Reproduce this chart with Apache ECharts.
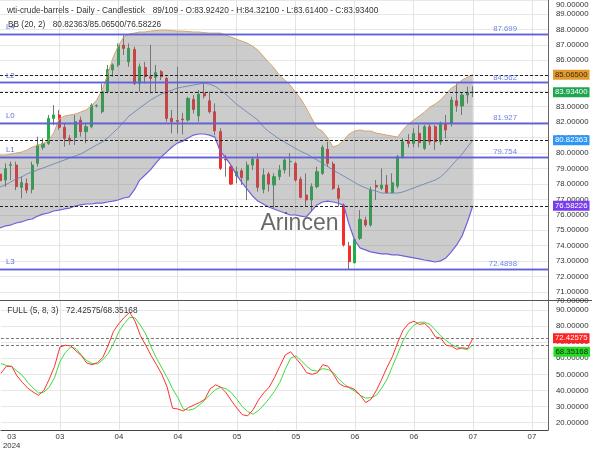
<!DOCTYPE html>
<html><head><meta charset="utf-8">
<script src="https://cdn.jsdelivr.net/npm/echarts@6/dist/echarts.min.js"></script>
<style>html,body{margin:0;padding:0;background:#fff}#c{width:600px;height:450px}</style>
</head><body><div id="c"></div>
<script>
// ---- candles ----
const open = [78.64,78.25,79.2,79.22,77.78,78.03,77.65,79.33,80.37,80.62, 82.24,82.46,81.66,80.95,81.0,82.13,81.38,81.7,83.05,82.67, 83.97,85.37,85.7,86.98,85.9,86.7,84.5,85.54,84.94,84.9, 85.26,84.83,82.24,82.1,82.2,82.13,83.47,82.4,83.86,83.38, 82.67,81.38,79.6,79.11,78.51,78.85,78.25,79.22,79.59,77.65, 78.64,77.93,78.47,78.9,79.44,79.33,78.3,77.28,76.96,77.82, 78.68,80.24,79.29,77.71,76.64,73.98,72.9,74.48,75.66,75.34, 77.9,77.71,77.93,77.43,77.86,79.72,80.78,80.62,81.27,80.3, 81.7,81.7,80.73,81.85,81.92,83.38,83.04,83.75,83.9242];
const high = [79.44,79.33,79.45,79.44,78.47,78.36,79.44,81.06,80.95,82.46, 83.1,82.78,81.92,81.16,82.46,82.35,81.92,83.21,83.15,84.5, 85.7,85.8,87.09,87.63,87.09,86.88,85.8,85.9,87.0,85.7, 85.37,84.94,82.78,85.58,82.6,83.64,83.75,84.07,84.5,83.97, 83.21,81.6,79.87,79.22,79.11,79.0,79.44,79.76,79.98,79.0, 78.79,78.68,79.22,79.65,79.98,79.44,78.47,78.68,78.04,79.11, 80.52,80.73,79.44,77.93,76.74,74.26,74.48,76.31,75.88,77.82, 78.25,79.0,78.58,78.68,79.87,80.95,81.23,81.6,81.81,81.81, 81.92,81.81,82.03,82.46,83.64,84.5,83.9,84.29,84.321];
const low = [77.82,77.82,78.25,77.6,77.07,77.39,77.39,79.12,80.2,80.52, 81.8,81.5,80.41,80.52,80.52,81.06,80.63,81.6,82.95,82.56, 83.86,84.94,85.58,86.34,85.58,84.4,83.97,84.5,83.86,83.97, 84.72,82.03,81.27,81.27,81.2,82.03,82.56,82.03,83.53,82.56, 81.16,78.9,78.47,77.93,78.04,77.93,76.96,78.9,77.5,77.39, 77.5,76.42,78.25,78.68,78.47,78.14,77.07,76.53,76.2,77.71, 78.58,79.11,77.61,76.53,73.94,72.43,72.86,74.37,75.23,75.23, 76.96,77.6,77.39,77.39,77.71,79.65,80.36,80.36,80.36,80.19, 80.52,80.19,80.52,80.95,81.7,82.67,82.46,83.21,83.614];
const close = [78.21,79.0,79.25,77.82,78.08,77.6,79.22,80.52,80.63,82.24, 82.46,81.66,80.95,80.78,82.03,81.38,81.7,83.1,83.08,83.97, 85.41,85.7,86.98,86.77,86.77,84.5,85.58,84.94,84.83,85.2, 84.94,82.24,82.03,82.05,82.15,83.53,82.82,83.8,83.69,82.67, 81.44,79.01,79.55,77.99,78.79,78.42,79.22,79.6,77.78,78.58, 77.99,78.47,78.9,79.55,79.46,78.25,77.13,76.96,77.82,78.79, 80.36,79.33,77.71,77.07,74.05,72.97,74.41,75.71,75.34,77.61, 77.8,77.93,77.43,78.08,79.76,80.73,80.62,81.27,80.67,81.7, 80.73,80.73,81.92,81.49,83.43,83.06,83.75,83.92,83.934];

// ---- Bollinger bands ----
const bbUpper = [79.87,79.87,79.93,80.0,80.06,80.19,80.39,80.5,80.6,80.8, 81.3,82.2,82.39,82.46,82.52,82.65,82.78,83.04,83.43,84.07, 85.04,86.14,86.92,87.5,87.7,87.76,87.83,87.83,87.89,87.92, 87.95,87.95,87.92,87.89,87.89,87.86,87.83,87.83,87.79,87.76, 87.76,87.76,87.63,87.5,87.37,87.24,87.11,86.92,86.66,86.27, 85.88,85.5,85.04,84.72,84.4,83.94,83.49,82.91,82.26,81.62, 81.42,80.97,80.39,80.52,80.84,81.23,81.42,81.49,81.42,81.42, 81.29,81.23,81.16,81.1,81.03,81.49,81.87,82.13,82.39,82.65, 82.97,83.17,83.43,83.81,84.2,84.4,84.72,84.91,85.065];
const bbMiddle = [77.8,77.93,78.13,78.32,78.45,78.64,78.77,78.91,79.03,79.16, 79.29,79.42,79.55,79.68,79.81,79.93,80.13,80.32,80.52,80.71, 80.97,81.29,81.62,82.0,82.39,82.65,82.91,83.17,83.43,83.62, 83.81,83.94,84.07,84.2,84.27,84.33,84.4,84.46,84.53,84.46, 84.33,84.07,83.81,83.49,83.17,82.91,82.65,82.39,82.13,81.7, 81.4,81.15,80.9,80.7,80.5,80.3,80.1,79.95,79.75,79.55, 79.35,79.12,78.9,78.7,78.5,78.3,78.1,77.9,77.75,77.62, 77.54,77.41,77.41,77.41,77.41,77.48,77.61,77.74,77.87,78.0, 78.13,78.25,78.45,78.77,79.16,79.55,79.93,80.39,80.82363];
const bbLower = [75.15,75.28,75.34,75.47,75.54,75.67,75.73,75.92,76.05,76.12, 76.25,76.31,76.38,76.44,76.57,76.64,76.7,76.7,76.76,76.76, 76.83,76.89,76.96,77.09,77.15,77.61,78.25,78.58,78.91,79.35, 79.74,80.06,80.39,80.64,80.77,80.97,81.16,81.23,81.23,81.16, 81.03,80.1,79.7,79.2,78.6,78.1,77.67,77.22,76.89,76.7, 76.51,76.38,76.25,76.12,75.99,75.99,75.92,75.86,76.25,76.64, 76.83,76.89,76.83,76.75,76.6,75.34,74.37,73.86,73.73,73.6, 73.54,73.47,73.47,73.41,73.41,73.35,73.28,73.21,73.15,73.08, 73.02,72.95,73.02,73.21,73.6,74.05,74.63,75.54,76.58226];

// ---- Full stochastic ----
const stochK = [50.6,55,55,49,45,41.5,39,37,40,47, 55,67,68,67.7,64.5,61.6,57,56,57.3,60.5, 68,76.8,81.5,85.4,88.5,83,74,68,61.6,56, 50,42,29,28.5,27.3,29.5,31,32.5,34.5,41, 43.5,42,38.5,33.5,29,25,24.3,28,34,38.5, 42,48,55,62,64,60,56,51,50,51, 56,55,50,44.5,42.5,42,40.5,37,32.5,34.5, 40,47,54.5,61,70,77.5,81.5,83,81,81.5, 78.5,73.2,72.5,68,67.5,65.5,66.5,66,72.42575];
const stochD = [56.7,55.5,54.8,52,49.3,45,41.5,38.5,39,42, 48,58,63.5,67,66,62,58.5,56.7,56.5,59, 63,69,76.5,81.5,85.4,85,80.5,75,67,60, 54,48,41,35.5,28.5,27.8,28.6,31,34,37.5, 40.5,42,41,38.5,34.5,30,27,25.3,27.5,31, 35,39.5,45,53,60,61.5,58.5,55,52.5,52, 53.5,53,51,47,44,41.5,39.5,37,35.3,35.5, 37,41.5,47,55,63,71,76.8,80.5,82.3,82.3, 81,77.5,73.8,71,68.5,67,66,65.3,68.35168];

// ---- axis / levels ----
const slotCount = 103;
const tickIndex = [2, 11, 22, 33, 44, 55, 66, 77, 88, 99];
const tickText = ['03\n2024', '03', '04', '04', '05', '05', '06', '06', '07', '07'];
const gridLineIndex = [11, 22, 33, 44, 55, 66, 77, 88, 99];
const levelValues = [87.699, 84.562, 81.927, 79.754, 72.4898];
const levelNames = ['L4', 'L2', 'L0', 'L1', 'L3'];
const totalBars = 109;

const FONT = '"Liberation Sans", Arial, sans-serif';
const FS = 7.8;
const N = open.length;
const L = N - 1;
const categories = Array.from({length: slotCount}, (_, i) => String(i));
const wickData = open.map((o, i) => [o, close[i], low[i], high[i]]);
const bodyData = open.map((o, i) => [o, close[i], Math.min(o, close[i]), Math.max(o, close[i])]);
const bandWidth = bbUpper.map((u, i) => +(u - bbLower[i]).toFixed(5));
const labelSet = new Set(tickIndex);
const lineSet = new Set(gridLineIndex);

const UP = '#1fae48', DOWN = '#f42c2c', WICK = '#777777';

function badge(value, bg, fg, pos, dist) {
  return {
    yAxis: value,
    lineStyle: {type: [3, 2], color: '#222', width: 1},
    label: {show: true, position: pos || 'end', distance: dist || 5, formatter: value.toFixed(5),
      backgroundColor: bg, color: fg, padding: [1, 2, 0, 2], fontSize: FS, lineHeight: 9, fontFamily: FONT}
  };
}
const levelLine = {type: 'solid', color: '#6262d8', width: 1.4};
const mainMarks = [];
levelValues.forEach((v, i) => {
  mainMarks.push({yAxis: v, lineStyle: levelLine,
    label: {show: true, position: 'insideEndTop', distance: [31, 1], formatter: String(v), color: '#6f84e4', fontSize: FS, fontFamily: FONT}});
  mainMarks.push({yAxis: v, lineStyle: levelLine,
    label: {show: true, position: 'insideStartTop', distance: [6, 3], formatter: levelNames[i], color: '#5a70dc', fontSize: FS, fontFamily: FONT}});
});
mainMarks.push(badge(bbUpper[L], '#e29a2e', '#3a2a10'));
mainMarks.push(badge(close[L], '#20a650', '#ffffff'));
mainMarks.push(badge(bbMiddle[L], '#2f96f2', '#ffffff'));
mainMarks.push(badge(bbLower[L], '#7a3cf0', '#ffffff'));

const k1 = badge(stochK[L], '#ff2222', '#ffffff');
k1.lineStyle = {type: [3, 2], color: '#777', width: 1};
const d1 = badge(stochD[L], '#22dd22', '#1a1a1a', 'insideEndBottom', [-42, 2]);
d1.lineStyle = {type: [3, 2], color: '#777', width: 1};

const fmtInt = (step) => (v) => {
  const r = Math.round(v / step) * step;
  return Math.abs(v - r) < 1e-6 ? v.toFixed(5) : '';
};

const txt = (x, y, text, opts) => ({type: 'text', x, y, silent: true, z: 20,
  style: Object.assign({text, fontSize: 8.3, fontFamily: FONT, fill: '#333', verticalAlign: 'middle'}, opts || {})});

const chart = echarts.init(document.getElementById('c'), null, {renderer: 'canvas'});
chart.setOption({
  animation: false,
  textStyle: {fontFamily: FONT},
  grid: [
    {left: 0, right: 52, top: 0, height: 300},
    {left: 0, right: 52, top: 300, height: 132}
  ],
  xAxis: [
    {type: 'category', gridIndex: 0, data: categories, boundaryGap: false,
      axisLine: {show: false}, axisTick: {show: false}, axisLabel: {show: false},
      splitLine: {show: true, interval: (i) => lineSet.has(i), lineStyle: {color: '#e3e3e3', width: 1}}},
    {type: 'category', gridIndex: 1, data: categories, boundaryGap: false,
      axisLine: {show: true, lineStyle: {color: '#444', width: 1}}, axisTick: {show: false},
      axisLabel: {show: true, interval: (i) => labelSet.has(i),
        formatter: (v) => tickText[tickIndex.indexOf(parseInt(v, 10))] || '',
        fontSize: FS, color: '#333', lineHeight: 9, margin: 2, fontFamily: FONT},
      splitLine: {show: true, interval: (i) => lineSet.has(i), lineStyle: {color: '#e3e3e3', width: 1}}}
  ],
  yAxis: [
    {type: 'value', gridIndex: 0, position: 'right', min: 70.49, max: 89.9, splitNumber: 19, minInterval: 1, maxInterval: 1,
      axisLine: {show: true, lineStyle: {color: '#666'}}, axisTick: {show: false},
      axisLabel: {formatter: fmtInt(1), fontSize: FS, color: '#333', margin: 8, fontFamily: FONT},
      splitLine: {show: true, lineStyle: {color: '#e8e8e8'}}},
    {type: 'value', gridIndex: 1, position: 'right', min: 15.5, max: 96.1, splitNumber: 8, minInterval: 10, maxInterval: 10,
      axisLine: {show: true, lineStyle: {color: '#666'}}, axisTick: {show: false},
      axisLabel: {formatter: fmtInt(10), fontSize: FS, color: '#333', margin: 8, fontFamily: FONT},
      splitLine: {show: true, lineStyle: {color: '#e8e8e8'}}}
  ],
  series: [
    {name: 'wick', type: 'candlestick', xAxisIndex: 0, yAxisIndex: 0, data: wickData, barWidth: 0.6, z: 2, silent: true,
      itemStyle: {color: WICK, color0: WICK, borderColor: WICK, borderColor0: WICK, borderWidth: 1}},
    {name: 'body', type: 'candlestick', xAxisIndex: 0, yAxisIndex: 0, data: bodyData, barWidth: 2.6, z: 2, silent: true,
      itemStyle: {color: UP, color0: DOWN, borderColor: UP, borderColor0: DOWN, borderWidth: 1}},
    {name: 'bbBase', type: 'line', xAxisIndex: 0, yAxisIndex: 0, data: bbLower, stack: 'bb', symbol: 'none', z: 3, silent: true,
      lineStyle: {opacity: 0}},
    {name: 'bbFill', type: 'line', xAxisIndex: 0, yAxisIndex: 0, data: bandWidth, stack: 'bb', symbol: 'none', z: 3, silent: true,
      lineStyle: {opacity: 0}, areaStyle: {color: 'rgba(115,115,115,0.52)'}},
    {name: 'bbUpper', type: 'line', xAxisIndex: 0, yAxisIndex: 0, data: bbUpper, symbol: 'none', z: 4, silent: true,
      lineStyle: {color: '#d4a66a', width: 1}},
    {name: 'bbLower', type: 'line', xAxisIndex: 0, yAxisIndex: 0, data: bbLower, symbol: 'none', z: 4, silent: true,
      lineStyle: {color: '#6d62dc', width: 1.2}},
    {name: 'bbMiddle', type: 'line', xAxisIndex: 0, yAxisIndex: 0, data: bbMiddle, symbol: 'none', z: 4, silent: true,
      lineStyle: {color: '#5f80b0', width: 0.8},
      markLine: {silent: true, symbol: ['none', 'none'], animation: false, data: mainMarks}},
    {name: '%D', type: 'line', xAxisIndex: 1, yAxisIndex: 1, data: stochD, symbol: 'none', z: 4, silent: true,
      lineStyle: {color: '#3fdc3f', width: 1}},
    {name: '%K', type: 'line', xAxisIndex: 1, yAxisIndex: 1, data: stochK, symbol: 'none', z: 5, silent: true,
      lineStyle: {color: '#ff3030', width: 1},
      markLine: {silent: true, symbol: ['none', 'none'], animation: false, data: [k1, d1]}}
  ],
  graphic: [
    {type: 'line', silent: true, z: 20, shape: {x1: 0, y1: 300.5, x2: 592, y2: 300.5}, style: {stroke: '#555', lineWidth: 1}},
    txt(7, 10.7, 'wti-crude-barrels - Daily - Candlestick'),
    txt(152.7, 10.7, N + '/' + totalBars + ' - O:' + open[L].toFixed(5) + ' - H:' + high[L].toFixed(5) +
      ' - L:' + low[L].toFixed(5) + ' - C:' + close[L].toFixed(5)),
    txt(8, 25, 'BB (20, 2)'),
    txt(52.7, 25, bbMiddle[L].toFixed(5) + '/' + bbUpper[L].toFixed(5) + '/' + bbLower[L].toFixed(5)),
    txt(7.3, 311, 'FULL (5, 8, 3)'),
    txt(66, 311, stochK[L].toFixed(5) + '/' + stochD[L].toFixed(5)),
    txt(556, 4.5, (90).toFixed(5), {fontSize: FS}),
    txt(556, 301, (70).toFixed(5), {fontSize: FS}),
    {type: 'text', x: 299.5, y: 223.5, silent: true, z: 10,
      style: {text: 'Arincen', fontSize: 23, fontFamily: FONT, fill: 'rgba(90,90,90,0.9)', align: 'center', verticalAlign: 'middle'}}
  ]
});
</script>
</body></html>
